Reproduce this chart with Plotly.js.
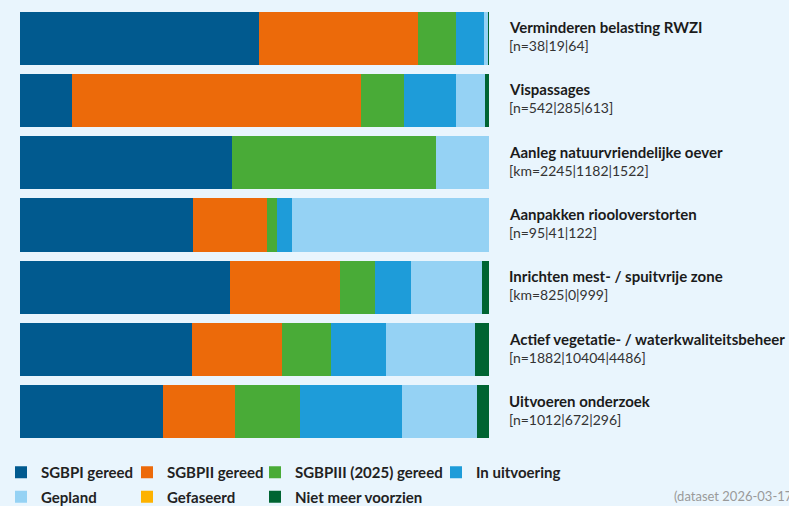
<!DOCTYPE html>
<html>
<head>
<meta charset="utf-8">
<script src="https://cdn.plot.ly/plotly-3.0.1.min.js"></script>
<style>
html,body{margin:0;padding:0;background:#E9F5FD;}
#chart{width:789px;height:506px;}
</style>
</head>
<body>
<div id="chart"></div>
<script>
// Categories (top to bottom)
const categories = [
  "Verminderen belasting RWZI",
  "Vispassages",
  "Aanleg natuurvriendelijke oever",
  "Aanpakken riooloverstorten",
  "Inrichten mest- / spuitvrije zone",
  "Actief vegetatie- / waterkwaliteitsbeheer",
  "Uitvoeren onderzoek"
];
const subLabels = [
  "[n=38|19|64]",
  "[n=542|285|613]",
  "[km=2245|1182|1522]",
  "[n=95|41|122]",
  "[km=825|0|999]",
  "[n=1882|10404|4486]",
  "[n=1012|672|296]"
];
// Shares (%) per status
const sgbp1     = [50.96, 11.09, 45.20, 36.89, 44.78, 36.67, 30.49];
const sgbp2     = [33.83, 61.62,  0.00, 15.78, 23.38, 19.12, 15.35];
const sgbp3     = [ 8.10,  9.10, 43.50,  2.13,  7.53, 10.52, 13.79];
const uitvoer   = [ 6.04, 11.16,  0.00,  3.20,  7.68, 11.73, 21.82];
const gepland   = [ 0.85,  6.18, 11.30, 42.00, 15.14, 18.98, 15.99];
const gefaseerd = [ 0.00,  0.00,  0.00,  0.00,  0.00,  0.00,  0.00];
const nietMeer  = [ 0.21,  0.85,  0.00,  0.00,  1.49,  2.99,  2.56];

const seriesNames = ["SGBPI gereed","SGBPII gereed","SGBPIII (2025) gereed","In uitvoering","Gepland","Gefaseerd","Niet meer voorzien"];
const seriesValues = [sgbp1, sgbp2, sgbp3, uitvoer, gepland, gefaseerd, nietMeer];
const seriesColors = ["#015A8F","#EC6A0A","#49AB37","#1E9CD9","#95D2F4","#FDB201","#006432"];
const seriesLegend = ["legend","legend2","legend3","legend4","legend","legend2","legend3"];
const datasetNote = "(dataset 2026-03-17)";

const traces = seriesNames.map((name, i) => ({
  type: "bar",
  orientation: "h",
  name: name,
  x: seriesValues[i],
  y: categories,
  marker: {color: seriesColors[i], line: {width: 0}},
  legend: seriesLegend[i],
  legendgroup: "g" + i,
  hoverinfo: "skip"
}));

const annotations = [];
categories.forEach((c, i) => {
  annotations.push({
    xref: "paper", yref: "y", x: 1, y: c, xanchor: "left", yanchor: "middle",
    xshift: 18, yshift: 11, showarrow: false, text: c,
    font: {family: "Lato", size: 15, weight: 700, color: "#1b1b1b"}
  });
  annotations.push({
    xref: "paper", yref: "y", x: 1, y: c, xanchor: "left", yanchor: "middle",
    xshift: 18, yshift: -7.5, showarrow: false, text: subLabels[i],
    font: {family: "Lato", size: 14, color: "#333333"}
  });
});
annotations.push({
  xref: "paper", yref: "paper", x: (672 - 20) / 469, y: -(496 - 443) / 436,
  xanchor: "left", yanchor: "middle", showarrow: false, text: datasetNote,
  font: {family: "Lato", size: 13, color: "#9a9a9a"}
});

function leg(px) {
  return {
    xref: "paper", yref: "paper", x: (px - 20) / 469, y: -(456 - 443) / 436,
    xanchor: "left", yanchor: "top", orientation: "v",
    traceorder: "grouped", tracegroupgap: 2,
    bgcolor: "rgba(0,0,0,0)", borderwidth: 0,
    font: {family: "Lato", size: 15, weight: 700, color: "#222222"}
  };
}

const layout = {
  width: 789, height: 506,
  paper_bgcolor: "#E9F5FD", plot_bgcolor: "#E9F5FD",
  margin: {l: 20, r: 300, t: 7, b: 63, pad: 0, autoexpand: false},
  barmode: "stack",
  bargap: 0.148,
  showlegend: true,
  xaxis: {range: [0, 100], showgrid: false, zeroline: false, showticklabels: false, showline: false, ticks: "", fixedrange: true},
  yaxis: {type: "category", categoryorder: "array", categoryarray: categories, autorange: "reversed",
          showgrid: false, zeroline: false, showticklabels: false, showline: false, ticks: "", fixedrange: true},
  legend: leg(1),
  legend2: leg(127),
  legend3: leg(255),
  legend4: leg(436),
  annotations: annotations,
  font: {family: "Lato"}
};

Plotly.newPlot("chart", traces, layout, {displayModeBar: false, staticPlot: true});
</script>
</body>
</html>
